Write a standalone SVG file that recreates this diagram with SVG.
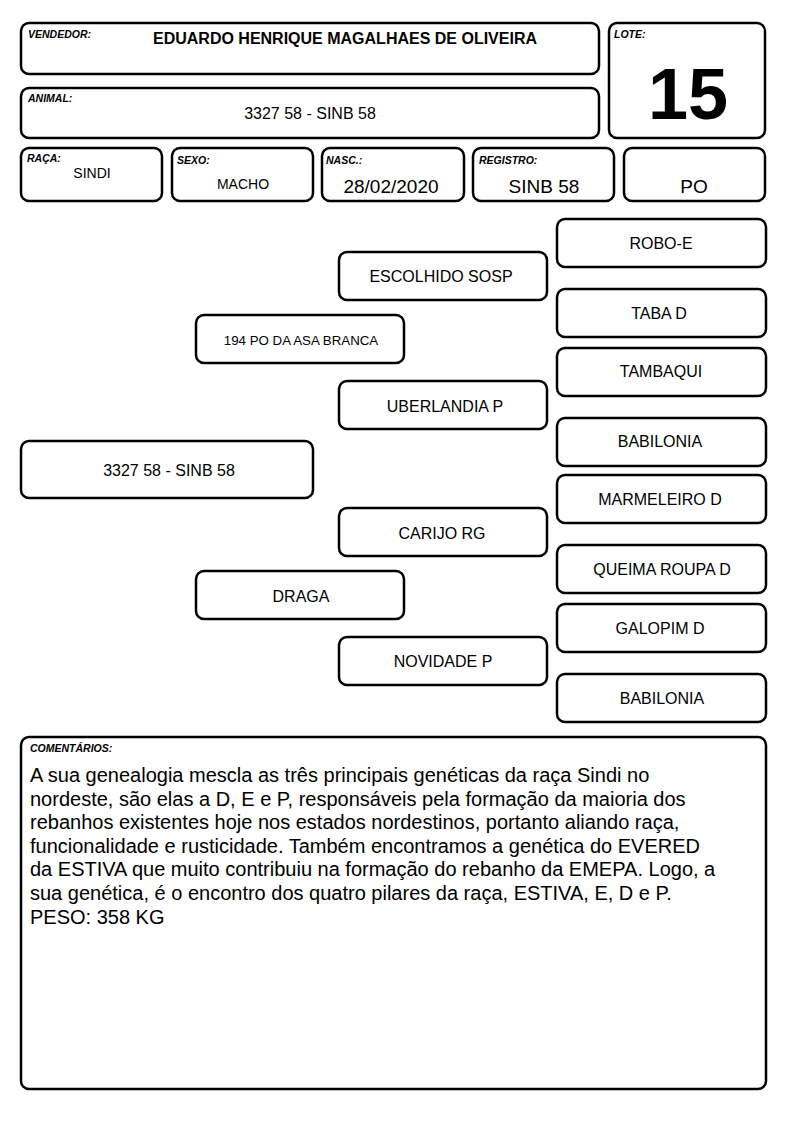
<svg xmlns="http://www.w3.org/2000/svg" width="794" height="1123" viewBox="0 0 794 1123">
<style>
.b{fill:#fff;stroke:#000;stroke-width:2.5}
.l{font-family:"Liberation Sans",Arial,sans-serif;font-size:10.5px;font-weight:bold;font-style:italic}
.t{font-family:"Liberation Sans",Arial,sans-serif;font-size:16px;text-anchor:middle}
.s14{font-size:14px}
.s19{font-size:19px}
.s13{font-size:13.3px}
.c{font-family:"Liberation Sans",Arial,sans-serif;font-size:20px}
</style>
<rect width="794" height="1123" fill="#fff"/>
<g id="vendedor"><rect class="b" x="21" y="23" width="578" height="51" rx="8"/><text class="l" x="28" y="38">VENDEDOR:</text><text class="t" x="345" y="44" font-weight="bold">EDUARDO HENRIQUE MAGALHAES DE OLIVEIRA</text></g>
<g id="lote"><rect class="b" x="609" y="23" width="156" height="115" rx="8"/><text class="l" x="614" y="38">LOTE:</text><text class="t" x="688" y="119" style="font-size:72px;font-weight:bold">15</text></g>
<g id="animal"><rect class="b" x="21" y="88" width="578" height="50" rx="8"/><text class="l" x="28" y="102">ANIMAL:</text><text class="t" x="310" y="119">3327 58 - SINB 58</text></g>
<g id="raca"><rect class="b" x="21" y="148" width="141" height="53" rx="8"/><text class="l" x="27" y="162">RAÇA:</text><text class="t s14" x="92" y="178">SINDI</text></g>
<g id="sexo"><rect class="b" x="172" y="148" width="141" height="53" rx="8"/><text class="l" x="177" y="164">SEXO:</text><text class="t s14" x="243" y="189">MACHO</text></g>
<g id="nasc"><rect class="b" x="322" y="148" width="142" height="53" rx="8"/><text class="l" x="326" y="164">NASC.:</text><text class="t s19" x="391" y="193">28/02/2020</text></g>
<g id="registro"><rect class="b" x="473" y="148" width="141" height="53" rx="8"/><text class="l" x="479" y="164">REGISTRO:</text><text class="t s19" x="544" y="193">SINB 58</text></g>
<g id="po"><rect class="b" x="624" y="148" width="141" height="53" rx="8"/><text class="t s19" x="694" y="193">PO</text></g>
<g id="robo"><rect class="b" x="557" y="219" width="209" height="48" rx="8"/><text class="t" x="661" y="249">ROBO-E</text></g>
<g id="escolhido"><rect class="b" x="339" y="252" width="208" height="48" rx="8"/><text class="t" x="441" y="282">ESCOLHIDO SOSP</text></g>
<g id="taba"><rect class="b" x="557" y="289" width="209" height="48" rx="8"/><text class="t" x="659" y="319">TABA D</text></g>
<g id="asabranca"><rect class="b" x="196" y="315" width="208" height="48" rx="8"/><text class="t s13" x="301" y="345">194 PO DA ASA BRANCA</text></g>
<g id="tambaqui"><rect class="b" x="557" y="348" width="209" height="48" rx="8"/><text class="t" x="661" y="377">TAMBAQUI</text></g>
<g id="uberlandia"><rect class="b" x="339" y="381" width="208" height="48" rx="8"/><text class="t" x="445" y="412">UBERLANDIA P</text></g>
<g id="babilonia1"><rect class="b" x="557" y="418" width="209" height="48" rx="8"/><text class="t" x="660" y="447">BABILONIA</text></g>
<g id="animal2"><rect class="b" x="21" y="441" width="292" height="57" rx="8"/><text class="t" x="169" y="476">3327 58 - SINB 58</text></g>
<g id="marmeleiro"><rect class="b" x="557" y="475" width="209" height="48" rx="8"/><text class="t" x="660" y="505">MARMELEIRO D</text></g>
<g id="carijo"><rect class="b" x="339" y="508" width="208" height="48" rx="8"/><text class="t" x="442" y="539">CARIJO RG</text></g>
<g id="queima"><rect class="b" x="557" y="545" width="209" height="48" rx="8"/><text class="t" x="662" y="575">QUEIMA ROUPA D</text></g>
<g id="draga"><rect class="b" x="196" y="571" width="208" height="48" rx="8"/><text class="t" x="301" y="602">DRAGA</text></g>
<g id="galopim"><rect class="b" x="557" y="604" width="209" height="48" rx="8"/><text class="t" x="660" y="634">GALOPIM D</text></g>
<g id="novidade"><rect class="b" x="339" y="637" width="208" height="48" rx="8"/><text class="t" x="443" y="667">NOVIDADE P</text></g>
<g id="babilonia2"><rect class="b" x="557" y="674" width="209" height="48" rx="8"/><text class="t" x="662" y="704">BABILONIA</text></g>
<g id="comentarios"><rect class="b" x="21" y="737" width="745" height="352" rx="8"/><text class="l" x="30" y="752">COMENTÁRIOS:</text>
<text class="c" x="30" y="782">A sua genealogia mescla as três principais genéticas da raça Sindi no</text>
<text class="c" x="30" y="806">nordeste, são elas a D, E e P, responsáveis pela formação da maioria dos</text>
<text class="c" x="30" y="829">rebanhos existentes hoje nos estados nordestinos, portanto aliando raça,</text>
<text class="c" x="30" y="853">funcionalidade e rusticidade. Também encontramos a genética do EVERED</text>
<text class="c" x="30" y="876">da ESTIVA que muito contribuiu na formação do rebanho da EMEPA. Logo, a</text>
<text class="c" x="30" y="900">sua genética, é o encontro dos quatro pilares da raça, ESTIVA, E, D e P.</text>
<text class="c" x="30" y="924">PESO: 358 KG</text>
</g>
<g id="connectors"/>
</svg>
